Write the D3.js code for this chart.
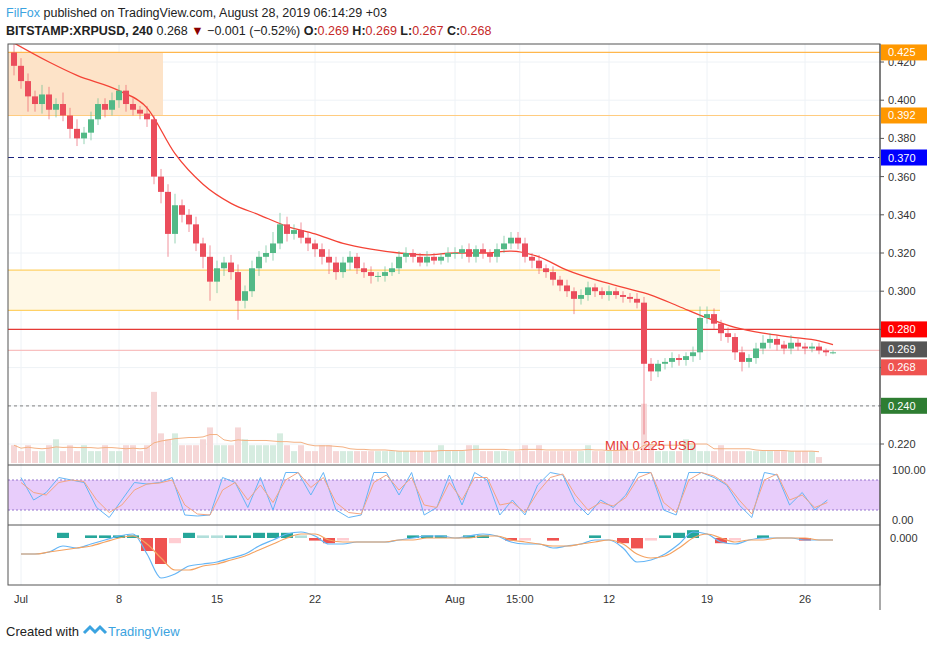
<!DOCTYPE html>
<html><head><meta charset="utf-8">
<script src="https://cdn.jsdelivr.net/npm/d3@7"></script>
<style>
body{margin:0;background:#fff;font-family:"Liberation Sans",Arial,sans-serif}
text{font-family:"Liberation Sans",Arial,sans-serif}
</style></head><body>
<svg id="c" width="939" height="648"></svg>
<script>
// 12h closes starting Jun 30 12:00
var closes = [0.418,0.410,0.402,0.398,0.403,0.395,0.398,0.392,0.385,0.380,0.383,0.390,0.398,0.395,0.400,0.405,
  0.398,0.395,0.393,0.390,0.360,0.352,0.330,0.345,0.340,0.335,0.325,0.318,0.305,0.312,0.315,0.310,
  0.295,0.300,0.312,0.318,0.320,0.325,0.335,0.330,0.332,0.328,0.325,0.322,0.318,0.315,0.310,0.315,
  0.318,0.312,0.310,0.308,0.308,0.310,0.312,0.318,0.320,0.318,0.315,0.318,0.316,0.318,0.320,
  0.320,0.322,0.318,0.322,0.320,0.318,0.322,0.325,0.328,0.325,0.318,0.316,0.312,0.310,0.306,0.303,
  0.300,0.296,0.298,0.302,0.300,0.298,0.300,0.298,0.297,0.296,0.294,0.262,0.258,0.262,0.263,0.265,
  0.264,0.266,0.268,0.286,0.288,0.283,0.278,0.276,0.268,0.263,0.265,0.270,0.273,0.275,0.272,0.270,
  0.273,0.271,0.270,0.271,0.269,0.268,0.268];
var wickHi = [0.006,0.004,0.004,0.003,0.005,0.004,0.003,0.006,0.004,0.005,0.003,0.004,0.003,0.003,0.004,0.003,
  0.003,0.003,0.002,0.004,0.002,0.004,0.004,0.006,0.003,0.003,0.004,0.003,0.006,0.004,0.003,0.004,
  0.004,0.003,0.004,0.003,0.004,0.006,0.006,0.004,0.003,0.004,0.003,0.002,0.003,0.004,0.003,0.003,
  0.003,0.002,0.003,0.003,0.002,0.003,0.003,0.003,0.003,0.002,0.002,0.003,0.002,0.002,0.003,
  0.003,0.002,0.003,0.002,0.003,0.002,0.003,0.004,0.003,0.003,0.003,0.002,0.003,0.002,0.003,0.002,
  0.003,0.002,0.003,0.003,0.002,0.002,0.003,0.002,0.002,0.002,0.003,0.003,0.003,0.002,0.002,0.003,
  0.002,0.002,0.003,0.006,0.004,0.003,0.002,0.003,0.002,0.003,0.002,0.003,0.004,0.003,0.002,0.002,
  0.004,0.002,0.002,0.002,0.002,0.001,0.001];
var wickLo = [0.005,0.004,0.008,0.004,0.005,0.005,0.004,0.003,0.005,0.004,0.003,0.004,0.003,0.004,0.003,0.004,
  0.004,0.003,0.003,0.004,0.004,0.006,0.012,0.005,0.004,0.004,0.004,0.006,0.010,0.006,0.004,0.004,
  0.010,0.004,0.003,0.004,0.003,0.004,0.003,0.004,0.003,0.003,0.004,0.004,0.004,0.006,0.004,0.003,
  0.004,0.003,0.003,0.004,0.003,0.003,0.002,0.003,0.003,0.003,0.002,0.002,0.002,0.002,0.003,
  0.003,0.003,0.003,0.003,0.003,0.003,0.003,0.002,0.003,0.003,0.003,0.004,0.003,0.003,0.003,0.003,
  0.003,0.008,0.003,0.003,0.003,0.002,0.003,0.002,0.003,0.002,0.003,0.037,0.005,0.003,0.003,0.003,
  0.003,0.003,0.003,0.004,0.003,0.003,0.004,0.003,0.004,0.005,0.003,0.003,0.003,0.003,0.003,0.003,
  0.003,0.002,0.003,0.002,0.002,0.002,0.001];
// daily MA points
var maDays = [0,3,5,8,10,12,14,16,18,20,22,24,26,28,30,32,34,36,38,40,42,44,46,48,50,52,54,56,58,59];
var maVals = [0.432,0.420,0.413,0.405,0.396,0.372,0.356,0.346,0.340,0.334,0.330,0.325,0.322,0.320,0.319,0.320,
  0.320,0.321,0.318,0.311,0.306,0.302,0.298,0.292,0.286,0.281,0.278,0.276,0.274,0.272];
var volumes = [3,2,3,2,2,3,4,2,3,2,3,2,2,3,2,2,3,3,2,3,12,5,4,5,3,3,3,4,6,3,3,3,6,4,3,3,3,3,5,3,2,3,2,2,3,3,
  2,2,2,2,2,2,2,2,2,2,2,2,2,2,2,3,2,2,2,3,3,2,2,2,2,2,2,3,2,3,2,2,2,2,2,2,3,2,2,2,2,3,2,2,10,3,2,2,2,2,4,
  3,2,2,2,3,2,2,2,2,2,2,2,2,2,2,2,2,2,1];
var stochK = [85,40,55,85,80,75,25,5,40,75,72,75,85,10,8,10,85,75,25,85,20,95,95,50,95,20,5,10,95,95,50,95,
  10,25,90,30,95,80,10,40,10,70,95,90,35,10,40,25,50,95,95,20,10,95,95,85,70,30,5,95,90,30,55,20,40];
var stochD = [75,55,50,75,80,77,40,15,30,60,72,74,80,30,12,10,60,75,40,70,35,80,95,65,85,35,15,12,75,90,60,85,
  30,25,75,40,85,85,30,35,15,55,85,92,50,20,35,28,45,85,95,35,15,80,95,88,72,40,12,80,92,40,50,25,35];
var macd = [-0.008,-0.008,-0.007,-0.004,-0.005,-0.003,-0.001,0.001,0.002,-0.008,-0.020,-0.018,-0.014,-0.013,-0.012,
  -0.010,-0.008,-0.004,-0.001,0.002,0.003,0.001,-0.003,-0.003,-0.002,-0.002,-0.002,-0.001,0.000,0.001,0.001,0.000,
  0.001,0.002,0.001,-0.002,-0.003,-0.003,-0.005,-0.004,-0.003,-0.001,-0.001,-0.005,-0.012,-0.011,-0.008,-0.003,
  0.003,0.002,-0.002,-0.003,-0.001,0.000,0.000,0.000,-0.001,-0.001,-0.001];
var signal = [-0.008,-0.008,-0.007,-0.006,-0.005,-0.004,-0.002,0.000,0.001,-0.003,-0.010,-0.016,-0.016,-0.014,-0.013,
  -0.011,-0.009,-0.006,-0.003,0.000,0.002,0.002,-0.001,-0.002,-0.002,-0.002,-0.002,-0.001,-0.001,0.000,0.000,0.000,
  0.000,0.001,0.001,-0.001,-0.002,-0.003,-0.004,-0.004,-0.003,-0.002,-0.001,-0.003,-0.008,-0.010,-0.009,-0.005,
  0.000,0.002,0.000,-0.002,-0.001,-0.001,0.000,0.000,0.000,-0.001,-0.001];
var priceTicks = [0.22,0.24,0.26,0.28,0.30,0.32,0.34,0.36,0.38,0.40,0.42];
var tickDates = ["2019-07-01","2019-07-08","2019-07-15","2019-07-22","2019-08-01","2019-08-05T15:00","2019-08-12","2019-08-19","2019-08-26"];
var tickLabels = ["Jul","8","15","22","Aug","15:00","12","19","26"];
var levels = [
  {v:0.425, lab:"0.425", bg:"#ff9800", line:"#ffb74d", dash:null},
  {v:0.392, lab:"0.392", bg:"#ff9800", line:"#ffcc80", dash:null},
  {v:0.370, lab:"0.370", bg:"#0000ff", line:"#1a237e", dash:"6,4"},
  {v:0.280, lab:"0.280", bg:"#ff0000", line:"#e53935", dash:null},
  {v:0.269, lab:"0.269", bg:"#555555", line:"#f8c0c0", dash:null},
  {v:0.268, lab:"0.268", bg:"#ef5350", line:null, dash:null},
  {v:0.240, lab:"0.240", bg:"#2e7d32", line:"#999", dash:"3,3"}];

var svg = d3.select("#c");
var L = 8, R = 880;
var start = new Date(2019,5,30,12);
var x = d3.scaleTime().domain([new Date(2019,5,30), new Date(2019,8,1)]).range([7, 7+63*14]);
var y = d3.scaleLinear().domain([0.22,0.42]).range([444,62]);
var tAt = function(i){ return new Date(start.getTime() + i*12*3600*1000); };
var dAt = function(d){ return new Date(2019,5,30+d); };
var dayOf = function(i){ return new Date(2019,6,1+i); };

svg.append("defs").append("clipPath").attr("id","clp").append("rect").attr("x",L).attr("y",44).attr("width",R-L).attr("height",421);
svg.append("defs").append("clipPath").attr("id","clp2").append("rect").attr("x",L).attr("y",44).attr("width",R-L).attr("height",541);

// header
var h = svg.append("text").attr("x",6).attr("y",17).attr("font-size",12.5);
h.append("tspan").attr("fill","#3ba3e0").text("FilFox");
h.append("tspan").attr("fill","#222").text(" published on TradingView.com, August 28, 2019 06:14:29 +03");
var h2 = svg.append("text").attr("x",6).attr("y",35).attr("font-size",12.5).attr("fill","#222");
h2.append("tspan").attr("font-weight","bold").text("BITSTAMP:XRPUSD, 240");
h2.append("tspan").text(" 0.268 ");
h2.append("tspan").attr("fill","#8b0000").text("▼");
h2.append("tspan").text(" −0.001 (−0.52%) ");
[["O:","0.269"],["H:","0.269"],["L:","0.267"],["C:","0.268"]].forEach(function(p){
  h2.append("tspan").attr("font-weight","bold").text(p[0]);
  h2.append("tspan").attr("fill","#c62828").text(p[1]+" ");
});

// grid
var grid = svg.append("g");
tickDates.forEach(function(t){
  var xx = x(new Date(t));
  grid.append("line").attr("x1",xx).attr("x2",xx).attr("y1",44).attr("y2",585).attr("stroke","#eef2f6");
});
priceTicks.forEach(function(p){
  grid.append("line").attr("x1",L).attr("x2",R).attr("y1",y(p)).attr("y2",y(p)).attr("stroke","#eef2f6");
});

var main = svg.append("g").attr("clip-path","url(#clp)");
// zones
main.append("rect").attr("x",L).attr("width",163-L).attr("y",y(0.425)).attr("height",y(0.392)-y(0.425)).attr("fill","#fde3c8");
main.append("rect").attr("x",L).attr("width",720-L).attr("y",y(0.311)).attr("height",y(0.290)-y(0.311)).attr("fill","#fff8e6");
[0.311,0.290].forEach(function(v){
  main.append("line").attr("x1",L).attr("x2",720).attr("y1",y(v)).attr("y2",y(v)).attr("stroke","#ffd166").attr("stroke-width",1.2);
});
levels.forEach(function(l){
  if(!l.line) return;
  main.append("line").attr("x1",L).attr("x2",R).attr("y1",y(l.v)).attr("y2",y(l.v))
    .attr("stroke",l.line).attr("stroke-width",1.2).attr("stroke-dasharray",l.dash);
});

// volume
var vy = d3.scaleLinear().domain([0,14]).range([463,380]);
main.selectAll(".vol").data(volumes).enter().append("rect")
  .attr("x",function(d,i){return x(tAt(i))-3;}).attr("width",6)
  .attr("y",function(d){return vy(d);}).attr("height",function(d){return 463-vy(d);})
  .attr("fill",function(d,i){ var o = i? closes[i-1] : 0.425; return closes[i]>=o ? "#d6ece0" : "#f6d7d7"; });
main.append("path").datum(volumes).attr("fill","none").attr("stroke","#f4b183").attr("stroke-width",1)
  .attr("d",d3.line().x(function(d,i){return x(tAt(i));}).y(function(d,i){
    var s = volumes.slice(Math.max(0,i-9),i+1); return vy(d3.mean(s)); }));

// MA
main.append("path").datum(maDays).attr("fill","none").attr("stroke","#f44336").attr("stroke-width",1.3)
  .attr("d",d3.line().curve(d3.curveMonotoneX).x(function(d){return x(dAt(d));}).y(function(d,i){return y(maVals[i]);}));

// candles
var cg = main.selectAll(".cd").data(closes).enter().append("g");
cg.each(function(c,i){
  var o = i? closes[i-1] : 0.425;
  var col = c>=o ? "#53b987" : "#eb4d5c";
  var xx = x(tAt(i));
  var g = d3.select(this);
  g.append("line").attr("x1",xx).attr("x2",xx).attr("y1",y(Math.max(o,c)+wickHi[i])).attr("y2",y(Math.min(o,c)-wickLo[i]))
    .attr("stroke",col).attr("opacity",0.6);
  g.append("rect").attr("x",xx-3).attr("width",6).attr("y",y(Math.max(o,c)))
    .attr("height",Math.max(1,Math.abs(y(o)-y(c)))).attr("fill",col);
});
main.append("text").attr("x",605).attr("y",450).attr("fill","#e53935").attr("font-size",13).text("MIN 0.225 USD");

// stochastic pane
var sy = d3.scaleLinear().domain([0,100]).range([520,470]);
svg.append("rect").attr("x",L).attr("width",R-L).attr("y",sy(80)).attr("height",sy(20)-sy(80)).attr("fill","#e8cdfb");
[80,20].forEach(function(v){
  svg.append("line").attr("x1",L).attr("x2",R).attr("y1",sy(v)).attr("y2",sy(v)).attr("stroke","#9575cd").attr("stroke-dasharray","2,2");
});
var sdx = function(i){ return x(new Date(2019,6,1).getTime() + i*0.9*86400000); };
[[stochK,"#64b5f6"],[stochD,"#f4a582"]].forEach(function(s){
  svg.append("path").attr("clip-path","url(#clp2)").attr("fill","none").attr("stroke",s[1]).attr("stroke-width",1)
    .attr("d",d3.line().x(function(d,i){return sdx(i);}).y(function(d){return sy(d);})(s[0]));
});

// MACD pane
var my = d3.scaleLinear().domain([-0.022,0.004]).range([582,530]);
var mg = svg.append("g").attr("clip-path","url(#clp2)");
macd.forEach(function(m,i){
  var hv = (m-signal[i])*1.3, prev = i? (macd[i-1]-signal[i-1])*1.3 : 0;
  var col = hv>=0 ? (hv>=prev ? "#26a69a" : "#b2dfdb") : (hv<prev ? "#ef5350" : "#ffcdd2");
  mg.append("rect").attr("x",x(dayOf(i))-6).attr("width",12)
    .attr("y",Math.min(my(0),my(hv))).attr("height",Math.abs(my(hv)-my(0))).attr("fill",col);
});
[[macd,"#64b5f6"],[signal,"#f4a261"]].forEach(function(s){
  mg.append("path").attr("fill","none").attr("stroke",s[1]).attr("stroke-width",1.2)
    .attr("d",d3.line().curve(d3.curveMonotoneX).x(function(d,i){return x(dayOf(i));}).y(function(d){return my(d);})(s[0]));
});

// frames
svg.append("rect").attr("x",L).attr("y",44).attr("width",R-L).attr("height",541).attr("fill","none").attr("stroke","#555");
[465,525].forEach(function(v){ svg.append("line").attr("x1",L).attr("x2",R).attr("y1",v).attr("y2",v).attr("stroke","#555"); });
svg.append("line").attr("x1",R).attr("x2",R).attr("y1",44).attr("y2",610).attr("stroke","#555");

// price axis
var ax = svg.append("g");
priceTicks.forEach(function(p){
  ax.append("line").attr("x1",R).attr("x2",R+4).attr("y1",y(p)).attr("y2",y(p)).attr("stroke","#555");
  ax.append("text").attr("x",R+8).attr("y",y(p)+4).attr("font-size",11).attr("fill","#333").text(p.toFixed(3));
});
[[100,"100.00"],[0,"0.00"]].forEach(function(p){
  ax.append("text").attr("x",R+12).attr("y",sy(p[0])+4).attr("font-size",11).attr("fill","#333").text(p[1]);
});
ax.append("text").attr("x",R+10).attr("y",my(0)+4).attr("font-size",11).attr("fill","#333").text("0.000");
levels.forEach(function(l){
  var yy = y(l.v); if(l.v===0.269) yy -= 1; if(l.v===0.268) yy += 15;
  ax.append("rect").attr("x",R+1).attr("y",yy-8).attr("width",46).attr("height",16).attr("fill",l.bg);
  ax.append("text").attr("x",R+8).attr("y",yy+4).attr("font-size",11).attr("fill","#fff").text(l.lab);
});

// time axis
tickDates.forEach(function(t,i){
  var xx = x(new Date(t));
  svg.append("text").attr("x",xx).attr("y",603).attr("text-anchor","middle").attr("font-size",11).attr("fill","#333").text(tickLabels[i]);
});

// footer
var f = svg.append("text").attr("x",6).attr("y",636).attr("font-size",13).attr("fill","#222");
f.append("tspan").text("Created with ");
svg.append("path").attr("d","M84,633 l6,-6 l5,5 l5,-5 l6,6").attr("fill","none").attr("stroke","#3ba3e0").attr("stroke-width",3);
svg.append("text").attr("x",108).attr("y",636).attr("font-size",13).attr("fill","#3ba3e0").text("TradingView");
</script></body></html>
